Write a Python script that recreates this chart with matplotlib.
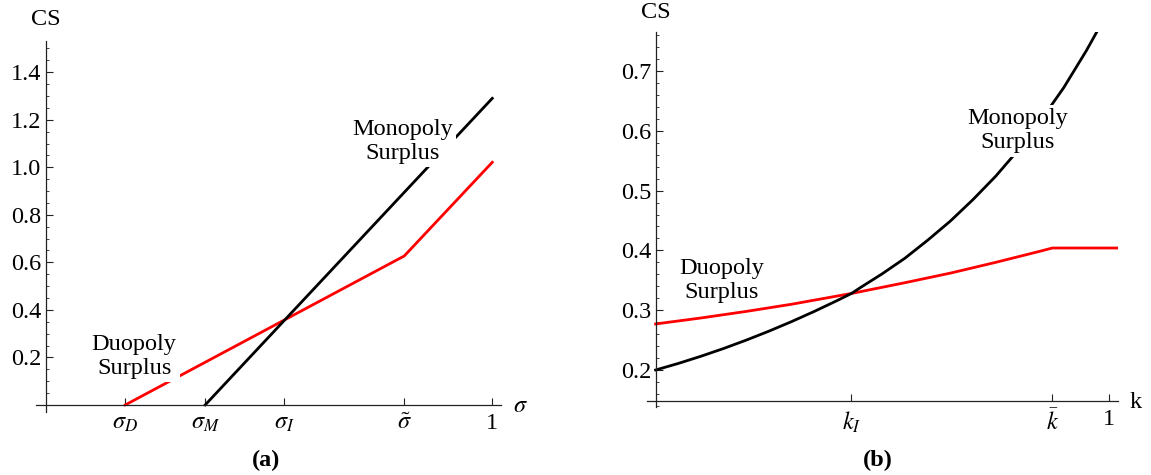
import matplotlib
matplotlib.use('Agg')
import matplotlib.pyplot as plt
from matplotlib.ticker import MultipleLocator

plt.rcParams['font.family'] = ['Liberation Serif', 'DejaVu Serif']
plt.rcParams['mathtext.fontset'] = 'stix'
FS = 17.5

### PANEL (a) DATA  (sigma axis)
sig_ticks  = [0.178, 0.357, 0.534, 0.803, 1.0]
sig_labels = [r'$\sigma_D$', r'$\sigma_M$', r'$\sigma_I$', r'$\tilde{\sigma}$', '1']
duo_a_x  = [0.178, 0.803, 1.0]
duo_a_y  = [0.0, 0.627, 1.021]
mono_a_x = [0.357, 1.0]
mono_a_y = [0.0, 1.29]
cs_a_ticks = [0.2, 0.4, 0.6, 0.8, 1.0, 1.2, 1.4]

### PANEL (b) DATA  (k axis)
k_ticks  = [0.432, 0.875, 1.0]
k_labels = [r'$k_I$', r'$\bar{k}$', '1']
mono_b_k = [0.0, 0.05, 0.10, 0.15, 0.20, 0.25, 0.30, 0.35, 0.40, 0.432, 0.45, 0.50,
            0.55, 0.60, 0.65, 0.70, 0.75, 0.80, 0.85, 0.90, 0.95, 0.975]
mono_b_y = [0.200, 0.211, 0.223, 0.236, 0.250, 0.265, 0.281, 0.298, 0.316, 0.328,
            0.337, 0.361, 0.387, 0.417, 0.449, 0.485, 0.524, 0.568, 0.618, 0.672,
            0.734, 0.768]
duo_b_k  = [0.0, 0.10, 0.20, 0.30, 0.432, 0.55, 0.65, 0.75, 0.85, 0.875, 1.02]
duo_b_y  = [0.277, 0.287, 0.298, 0.310, 0.328, 0.346, 0.362, 0.380, 0.399, 0.404, 0.404]
cs_b_ticks = [0.2, 0.3, 0.4, 0.5, 0.6, 0.7]


def style_axes(ax, y_cross, minor_step):
    # mathematica style axes crossing inside the plot
    ax.spines['left'].set_position(('data', 0))
    ax.spines['bottom'].set_position(('data', y_cross))
    ax.spines['top'].set_visible(False)
    ax.spines['right'].set_visible(False)
    for s in ['left', 'bottom']:
        ax.spines[s].set_linewidth(0.9)
        ax.spines[s].set_color('#222222')
    ax.yaxis.set_minor_locator(MultipleLocator(minor_step))
    ax.tick_params(axis='y', which='major', direction='in', length=5, width=0.8,
                   pad=3, labelsize=FS, color='#222222')
    ax.tick_params(axis='y', which='minor', direction='in', length=2.5, width=0.6,
                   color='#222222')
    ax.tick_params(axis='x', which='major', direction='in', length=5, width=0.8,
                   pad=6, labelsize=FS, color='#222222')
    ax.set_facecolor('none')


fig = plt.figure(figsize=(11.51, 4.75), dpi=100)
box = dict(facecolor='white', edgecolor='none', pad=2.5)

### (a)
ax1 = fig.add_axes([0.03119, 0.13242, 0.40426, 0.78063])
ax1.set_xlim(-0.022, 1.02)
ax1.set_ylim(-0.03, 1.53)
ax1.plot(duo_a_x, duo_a_y, color='#ff0000', lw=2)
ax1.plot(mono_a_x, mono_a_y, color='black', lw=2)
style_axes(ax1, 0.0, 0.05)
ax1.set_xticks(sig_ticks)
ax1.set_xticklabels(sig_labels)
ax1.set_yticks(cs_a_ticks)
ax1.set_yticklabels(['%.1f' % v for v in cs_a_ticks])
ax1.text(0.799, 1.109, 'Monopoly\nSurplus', ha='center', va='center',
         fontsize=FS, bbox=box, zorder=5)
ax1.text(0.198, 0.204, 'Duopoly\nSurplus', ha='center', va='center',
         fontsize=FS, bbox=box, zorder=5)
ax1.text(1.046, -0.029, r'$\sigma$', fontsize=FS, ha='left', va='baseline')
ax1.text(0.0, 1.62, 'CS', fontsize=FS, ha='center', va='center')
ax1.text(0.494, -0.235, '(a)', fontsize=FS, fontweight='bold', ha='center', va='center')

### (b)
ax2 = fig.add_axes([0.56195, 0.14295, 0.40947, 0.78947])
ax2.set_xlim(-0.0194, 1.02)
ax2.set_ylim(0.138, 0.765)
ax2.plot(duo_b_k, duo_b_y, color='#ff0000', lw=2)
ax2.plot(mono_b_k, mono_b_y, color='black', lw=2)
style_axes(ax2, 0.148, 0.02)
ax2.set_xticks(k_ticks)
ax2.set_xticklabels(k_labels)
ax2.set_yticks(cs_b_ticks)
ax2.set_yticklabels(['%.1f' % v for v in cs_b_ticks])
ax2.text(0.799, 0.600, 'Monopoly\nSurplus', ha='center', va='center',
         fontsize=FS, bbox=box, zorder=5)
ax2.text(0.146, 0.350, 'Duopoly\nSurplus', ha='center', va='center',
         fontsize=FS, bbox=box, zorder=5)
ax2.text(1.045, 0.1365, 'k', fontsize=FS, ha='left', va='baseline')
ax2.text(0.0, 0.797, 'CS', fontsize=FS, ha='center', va='center')
ax2.text(0.489, 0.048, '(b)', fontsize=FS, fontweight='bold', ha='center', va='center')

fig.savefig('out.png', dpi=100)
